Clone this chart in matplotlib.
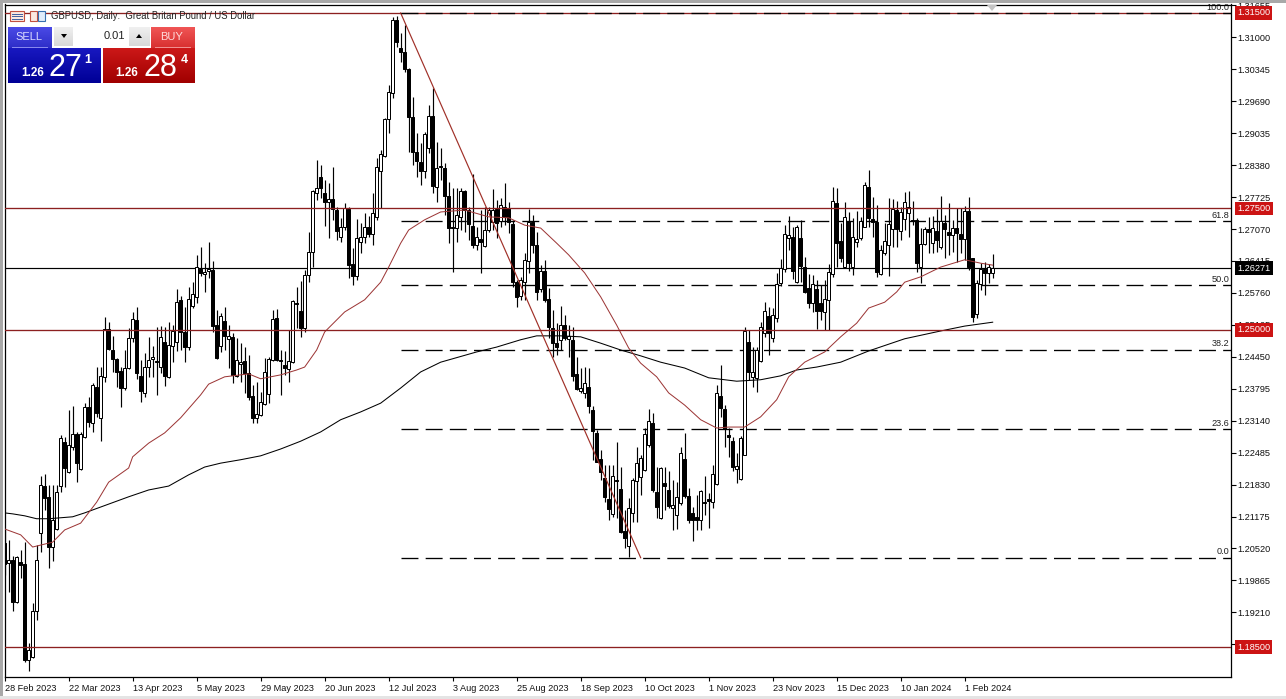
import numpy as np
import matplotlib
matplotlib.use("Agg")
import matplotlib.pyplot as plt
from matplotlib.patches import Rectangle, Polygon

plt.rcParams['font.family'] = ['Liberation Sans', 'DejaVu Sans']
plt.rcParams['lines.scale_dashes'] = False

# ---- data, price in 1/10000 ----
direction = ("bwbwbbwwww" "bbwwwbwwbw" "wbwbwwbbbb" "wwwbbwwwbw" "bwwwbbwwwb"
             "wwbbwbwbww" "bbbwwwwwbb" "bwwbbwwwwb" "bwbbwwbbww" "wbwwwwwwbb"
             "bbbbbwwbwb" "bbbwwbbbwb" "wwwbwbbbbw" "wwbbwbbbbw" "bwbbwwbbbb"
             "bbwbbbwwww" "wwbbwbbwww" "bbbbwbbwwb" "bbbwwwbwww" "wbwwwwwbwb"
             "bbwbbwwwbb" "wbwwwwbbbw" "wwwbwwwbbw" "wbwbwbbwbb" "wbbwwbww")
highs = [
 12090,12070,12037,12037,12049,12065,11858,11940,12059,12201,
 12205,12182,12182,12182,12285,12281,12336,12344,12291,12291,
 12350,12363,12391,12424,12424,12527,12516,12488,12443,12424,
 12459,12504,12537,12547,12439,12453,12486,12467,12506,12508,
 12506,12516,12510,12584,12570,12547,12588,12598,12654,12670,
 12637,12680,12641,12541,12535,12547,12510,12494,12484,12473,
 12465,12449,12387,12393,12373,12443,12445,12541,12543,12459,
 12457,12500,12562,12588,12600,12623,12701,12787,12849,12838,
 12808,12801,12834,12752,12730,12760,12752,12668,12728,12719,
 12740,12734,12781,12853,12869,12935,13002,13142,13144,13109,
 13125,13037,12978,12904,12883,12906,12961,12996,12885,12873,
 12842,12803,12791,12791,12791,12787,12752,12820,12711,12746,
 12752,12752,12789,12767,12771,12801,12762,12726,12603,12609,
 12658,12748,12736,12701,12633,12644,12586,12541,12514,12549,
 12531,12510,12506,12445,12422,12424,12422,12344,12295,12254,
 12223,12223,12223,12270,12219,12131,12156,12197,12260,12244,
 12299,12338,12330,12219,12219,12219,12211,12192,12188,12260,
 12289,12176,12137,12162,12172,12201,12166,12223,12387,12428,
 12346,12299,12281,12248,12283,12506,12500,12465,12465,12516,
 12557,12547,12545,12617,12646,12715,12734,12711,12715,12726,
 12650,12615,12613,12603,12592,12603,12635,12793,12791,12719,
 12762,12742,12730,12744,12732,12803,12828,12773,12756,12674,
 12719,12771,12769,12764,12752,12783,12785,12764,12730,12709,
 12711,12732,12734,12748,12775,12736,12760,12726,12750,12750,
 12754,12773,12648,12603,12637,12639,12635,12656]
body_tops = [
 12063,12028,12028,12035,12024,12020,11844,11924,12028,12182,
 12180,12158,12110,12168,12279,12270,12264,12287,12287,12287,
 12342,12342,12387,12383,12406,12502,12502,12459,12441,12416,
 12422,12484,12523,12521,12406,12424,12439,12445,12436,12486,
 12475,12469,12498,12557,12562,12496,12564,12574,12629,12625,
 12619,12625,12623,12510,12529,12518,12488,12486,12439,12434,
 12436,12412,12365,12328,12352,12414,12441,12523,12525,12439,
 12428,12436,12559,12555,12539,12613,12660,12785,12791,12814,
 12781,12769,12769,12746,12711,12750,12748,12635,12689,12691,
 12711,12711,12740,12834,12861,12933,12988,13136,13136,13078,
 13070,13035,12937,12865,12844,12902,12939,12939,12832,12836,
 12832,12775,12711,12736,12785,12785,12746,12713,12691,12687,
 12705,12746,12746,12748,12756,12752,12750,12717,12598,12603,
 12644,12721,12721,12674,12621,12621,12564,12504,12473,12510,
 12510,12488,12480,12410,12381,12391,12383,12336,12289,12236,
 12197,12154,12201,12192,12174,12088,12135,12192,12227,12238,
 12287,12313,12309,12168,12217,12186,12172,12141,12158,12248,
 12236,12160,12125,12117,12170,12147,12154,12205,12371,12365,
 12338,12285,12272,12221,12279,12498,12475,12414,12459,12506,
 12539,12529,12531,12594,12627,12697,12695,12691,12711,12689,
 12629,12586,12594,12584,12555,12564,12619,12764,12760,12682,
 12732,12723,12691,12687,12723,12797,12793,12728,12721,12664,
 12682,12717,12748,12746,12742,12762,12752,12726,12726,12676,
 12707,12707,12709,12703,12723,12719,12701,12709,12709,12697,
 12744,12744,12648,12596,12625,12625,12629,12627]
body_bottoms = [
 12020,12022,11942,11942,12018,11823,11823,11830,11924,12084,
 12156,12055,12055,12092,12180,12217,12209,12260,12227,12215,
 12281,12311,12309,12330,12320,12404,12461,12441,12414,12381,
 12381,12422,12484,12412,12375,12371,12424,12441,12434,12424,
 12406,12404,12467,12475,12496,12465,12465,12549,12568,12617,
 12615,12621,12508,12443,12467,12488,12482,12408,12406,12430,
 12412,12363,12320,12320,12326,12348,12369,12439,12439,12436,
 12422,12420,12434,12553,12504,12504,12613,12660,12781,12791,
 12762,12762,12748,12703,12691,12711,12633,12611,12611,12680,
 12691,12697,12697,12732,12826,12857,12933,12986,13090,13070,
 13035,12937,12865,12846,12826,12826,12873,12795,12793,12834,
 12775,12709,12709,12709,12732,12746,12717,12674,12674,12680,
 12672,12705,12721,12719,12723,12732,12721,12598,12568,12570,
 12598,12641,12674,12578,12584,12562,12506,12473,12465,12480,
 12484,12482,12406,12379,12375,12371,12344,12293,12229,12209,
 12158,12133,12123,12190,12086,12074,12057,12125,12190,12199,
 12213,12264,12172,12137,12115,12180,12139,12135,12121,12145,
 12160,12110,12110,12110,12110,12145,12149,12147,12184,12340,
 12297,12281,12219,12215,12195,12244,12414,12404,12402,12436,
 12494,12494,12484,12525,12596,12625,12689,12621,12598,12631,
 12578,12555,12555,12539,12539,12537,12562,12615,12678,12648,
 12629,12637,12629,12680,12689,12711,12730,12721,12619,12615,
 12658,12674,12707,12707,12703,12728,12740,12723,12637,12629,
 12676,12701,12678,12685,12670,12707,12695,12695,12699,12687,
 12687,12629,12527,12533,12594,12617,12617,12617]
lows = [
 11998,11963,11924,11940,11992,11819,11801,11828,11905,12045,
 12131,12012,12026,12090,12168,12178,12207,12254,12188,12213,
 12279,12301,12291,12322,12272,12393,12459,12414,12383,12342,
 12377,12420,12475,12400,12352,12363,12404,12404,12367,12412,
 12385,12402,12434,12457,12459,12434,12459,12545,12555,12611,
 12578,12607,12496,12441,12455,12459,12422,12391,12404,12393,
 12371,12357,12309,12309,12324,12346,12350,12436,12436,12367,
 12408,12393,12432,12504,12486,12496,12598,12629,12767,12771,
 12713,12689,12726,12685,12680,12705,12607,12592,12603,12658,
 12678,12691,12674,12726,12750,12855,12904,12976,13080,13049,
 13029,12865,12838,12814,12797,12812,12863,12781,12762,12808,
 12736,12678,12619,12680,12705,12701,12685,12668,12664,12617,
 12670,12701,12705,12689,12711,12715,12699,12588,12547,12562,
 12562,12617,12658,12562,12578,12557,12484,12445,12449,12459,
 12480,12445,12395,12377,12371,12361,12330,12234,12229,12192,
 12147,12110,12117,12115,12084,12053,12035,12106,12106,12162,
 12211,12260,12168,12115,12113,12131,12135,12090,12092,12141,
 12156,12104,12067,12090,12090,12121,12094,12135,12182,12322,
 12260,12240,12211,12186,12192,12244,12398,12383,12373,12434,
 12486,12449,12475,12516,12590,12619,12664,12605,12596,12598,
 12576,12545,12537,12502,12521,12500,12500,12609,12629,12639,
 12627,12621,12613,12670,12685,12711,12711,12691,12609,12613,
 12654,12611,12670,12670,12685,12705,12691,12715,12619,12596,
 12674,12658,12658,12660,12666,12648,12654,12660,12639,12658,
 12644,12623,12516,12525,12582,12572,12596,12607]

ma200_idx = [0,2,5,8,11,14,17,20,26,31,36,41,46,50,54,59,64,69,74,79,84,89,94,99,104,109,112,118,123,129,133,139,144,149,154,159,164,170,176,183,189,194,198,203,209,216,225,234,240,247]
ma200_val = [12125,12123,12119,12113,12113,12115,12117,12125,12143,12158,12172,12180,12203,12219,12227,12234,12242,12256,12272,12291,12316,12332,12350,12381,12414,12434,12441,12455,12465,12480,12488,12488,12486,12473,12459,12447,12434,12422,12402,12395,12398,12406,12418,12424,12434,12457,12482,12498,12508,12516]
ma50_idx = [0,4,7,9,12,15,19,23,26,31,32,36,40,44,49,51,55,61,64,69,73,75,78,80,85,90,94,96,99,101,105,109,115,121,126,130,134,138,141,145,149,153,156,159,163,166,170,174,178,181,185,189,193,196,200,205,209,213,216,220,223,225,229,234,240,244,247]
ma50_val = [12092,12080,12055,12059,12065,12090,12104,12147,12188,12217,12240,12268,12289,12320,12367,12389,12404,12410,12400,12408,12418,12424,12459,12496,12537,12562,12598,12629,12678,12705,12726,12742,12746,12732,12730,12715,12709,12678,12654,12617,12568,12510,12463,12432,12404,12371,12346,12316,12299,12301,12301,12322,12357,12404,12434,12455,12486,12514,12545,12557,12578,12598,12609,12629,12644,12637,12633]

levels_red = [1.31500, 1.27500, 1.25000, 1.18500]
last_price = 1.26271
fib_low, fib_high = 1.2033, 1.3150
fib_pcts = [0.0, 23.6, 38.2, 50.0, 61.8, 100.0]
fib_start, fib_end = 99, 159

ytick_vals = [1.31655,1.31000,1.30345,1.29690,1.29035,1.28380,1.27725,1.27070,1.26415,1.25760,1.25105,
              1.24450,1.23795,1.23140,1.22485,1.21830,1.21175,1.20520,1.19865,1.19210,1.18555]
xtick_labels = ["28 Feb 2023","22 Mar 2023","13 Apr 2023","5 May 2023","29 May 2023","20 Jun 2023",
                "12 Jul 2023","3 Aug 2023","25 Aug 2023","18 Sep 2023","10 Oct 2023","1 Nov 2023",
                "23 Nov 2023","15 Dec 2023","10 Jan 2024","1 Feb 2024"]
title = "GBPUSD, Daily:  Great Britan Pound / US Dollar"

# ---- layout ----
W, H = 1286, 699
fig = plt.figure(figsize=(W/100, H/100), dpi=100, facecolor='white')
L, R, T, B = 4.5, 1231.0, 4.5, 677.0
ax = fig.add_axes([L/W, 1-B/H, (R-L)/W, (B-T)/H])
ax.set_xlim(-0.04, 306.58)
ax.set_ylim(1.17885, 1.31674)

RED = '#8c2020'
h = np.array(highs)/1e4; l = np.array(lows)/1e4
t = np.array(body_tops)/1e4; b = np.array(body_bottoms)/1e4
xs = np.arange(len(h))
is_up = np.array([c == 'w' for c in direction])

# lines beneath the candles
ax.axhline(last_price, color='black', lw=0.85, zorder=1)
for p in fib_pcts:
    lv = fib_low + (fib_high-fib_low)*p/100
    ax.plot([fib_start, ax.get_xlim()[1]], [lv, lv], color='black', lw=0.95,
            ls=(0, (12.2, 5.2)), zorder=6 if p == 100.0 else 1)
    ax.annotate(f"{p:.1f}", xy=(1, lv), xycoords=('axes fraction', 'data'), xytext=(-1.3, 1.0),
                textcoords='offset points', ha='right', va='bottom', fontsize=6.6, color='#222222',
                annotation_clip=False, zorder=2)

# candles
ax.vlines(xs, l, h, color='black', lw=0.85, zorder=2)
ax.bar(xs[is_up], (t-b)[is_up], bottom=b[is_up], width=0.7, facecolor='white', edgecolor='black', lw=0.72, zorder=3)
ax.bar(xs[~is_up], np.maximum((t-b)[~is_up], 0.00015), bottom=b[~is_up], width=0.7, facecolor='black', edgecolor='black', lw=0.72, zorder=3)

# moving averages and lines on top
ax.plot(ma200_idx, np.array(ma200_val)/1e4, color='black', lw=0.75, zorder=4)
ax.plot(ma50_idx, np.array(ma50_val)/1e4, color='#9c3535', lw=0.72, zorder=4)
ax.plot([fib_start, fib_end], [fib_high, fib_low], color='#a03028', lw=0.85, zorder=4)
for p in levels_red:
    ax.axhline(p, color=RED, lw=0.95, zorder=5)

# axes
for s in ('left', 'bottom', 'right', 'top'):
    ax.spines[s].set_linewidth(0.9)
    ax.spines[s].set_color('black')
ax.yaxis.tick_right()
ax.set_yticks(ytick_vals)
ax.set_yticklabels([f"{v:.5f}" for v in ytick_vals], fontsize=6.6, color='#111111')
ax.tick_params(axis='y', length=3.6, width=0.8, pad=0.8)
ax.set_xticks(np.arange(len(xtick_labels))*16)
ax.set_xticklabels(xtick_labels, fontsize=6.6, ha='left', color='#111111')
ax.tick_params(axis='x', length=2.6, width=0.8, pad=2.6)

# right-hand price tags
for p in levels_red:
    ax.annotate(f"{p:.5f}", xy=(1, p), xycoords=('axes fraction', 'data'), xytext=(4.5, 0),
                textcoords='offset points', ha='left', va='center', fontsize=6.6, color='white',
                bbox=dict(boxstyle='square,pad=0.22', fc='#cc1414', ec='none'),
                annotation_clip=False, zorder=10)
ax.annotate(f"{last_price:.5f}", xy=(1, last_price), xycoords=('axes fraction', 'data'), xytext=(4.5, 0),
            textcoords='offset points', ha='left', va='center', fontsize=6.6, color='white',
            bbox=dict(boxstyle='square,pad=0.22', fc='black', ec='none'),
            annotation_clip=False, zorder=10)

# overlay in pixel space for the window chrome and trading panel
ov = fig.add_axes([0, 0, 1, 1], facecolor='none', zorder=20)
ov.set_xlim(0, W); ov.set_ylim(H, 0); ov.axis('off')

ov.add_patch(Rectangle((0, 0), W, 3, fc='#a8a8a8', ec='none'))
ov.add_patch(Rectangle((0, 0), 2.5, H, fc='#a8a8a8', ec='none'))
ov.add_patch(Rectangle((0, 696), W, 3, fc='#e4e4e4', ec='none'))
ov.add_patch(Polygon([(987, 5), (997, 5), (992, 11)], fc='#c4c4c4', ec='none'))

def grad(x0, x1, y0, y1, c0, c1):
    c0 = np.array(matplotlib.colors.to_rgb(c0)); c1 = np.array(matplotlib.colors.to_rgb(c1))
    ramp = np.linspace(0, 1, 32)[:, None, None]
    img = c0[None, None, :]*(1-ramp) + c1[None, None, :]*ramp
    ov.imshow(img, extent=(x0, x1, y1, y0), aspect='auto', zorder=1, interpolation='bilinear')

grad(8, 52, 27, 48, '#4a4ae6', '#2e2ec8')
grad(8, 101, 48, 83, '#1818c0', '#000096')
grad(151, 195, 27, 48, '#f05555', '#d83030')
grad(103, 195, 48, 83, '#cc1818', '#a00000')
grad(54, 73, 27, 46, '#f0f0f0', '#d8d8d8')
grad(129, 150, 27, 46, '#f0f0f0', '#d8d8d8')
ov.add_patch(Rectangle((73, 27), 56, 19, fc='white', ec='none', zorder=1))
ov.add_patch(Rectangle((12, 47), 36, 1, fc='#8888ee', ec='none', zorder=2))
ov.add_patch(Rectangle((155, 47), 36, 1, fc='#f09090', ec='none', zorder=2))
ov.add_patch(Polygon([(61, 34), (67, 34), (64, 38)], fc='black', ec='none', zorder=2))
ov.add_patch(Polygon([(136, 38), (142, 38), (139, 34)], fc='black', ec='none', zorder=2))
ov.set_xlim(0, W); ov.set_ylim(H, 0)

ov.text(29, 37, "SELL", color='#dcdcff', fontsize=8, ha='center', va='center', zorder=3)
ov.text(172, 37, "BUY", color='#ffdcdc', fontsize=8, ha='center', va='center', zorder=3)
ov.text(125, 36, "0.01", color='#222222', fontsize=8, ha='right', va='center', zorder=3)
ov.text(33, 72.5, "1.26", color='white', fontsize=8.5, fontweight='bold', ha='center', va='center', zorder=3)
ov.text(65, 68, "27", color='white', fontsize=22, ha='center', va='center', zorder=3)
ov.text(88, 60, "1", color='white', fontsize=9, fontweight='bold', ha='center', va='center', zorder=3)
ov.text(127, 72.5, "1.26", color='white', fontsize=8.5, fontweight='bold', ha='center', va='center', zorder=3)
ov.text(160, 68, "28", color='white', fontsize=22, ha='center', va='center', zorder=3)
ov.text(184, 60, "4", color='white', fontsize=9, fontweight='bold', ha='center', va='center', zorder=3)

# chart title and icons
ov.add_patch(Rectangle((10, 11), 14, 9.5, fc='#fbe8e0', ec='#c05040', lw=0.8, zorder=3))
for yy in (13.5, 16, 18.5):
    ov.plot([12, 22], [yy, yy], color='#4060a0', lw=0.7, zorder=4)
ov.add_patch(Rectangle((30, 11), 6.5, 10, fc='#fbe8e0', ec='#c05040', lw=0.8, zorder=3))
ov.add_patch(Rectangle((38, 10.5), 6.5, 10.5, fc='#e0ecfb', ec='#3870b0', lw=0.8, zorder=3))
ov.text(51, 16, title, fontsize=6.85, color='#222222', ha='left', va='center', zorder=3)

fig.savefig("out.png", dpi=100, facecolor='white')
